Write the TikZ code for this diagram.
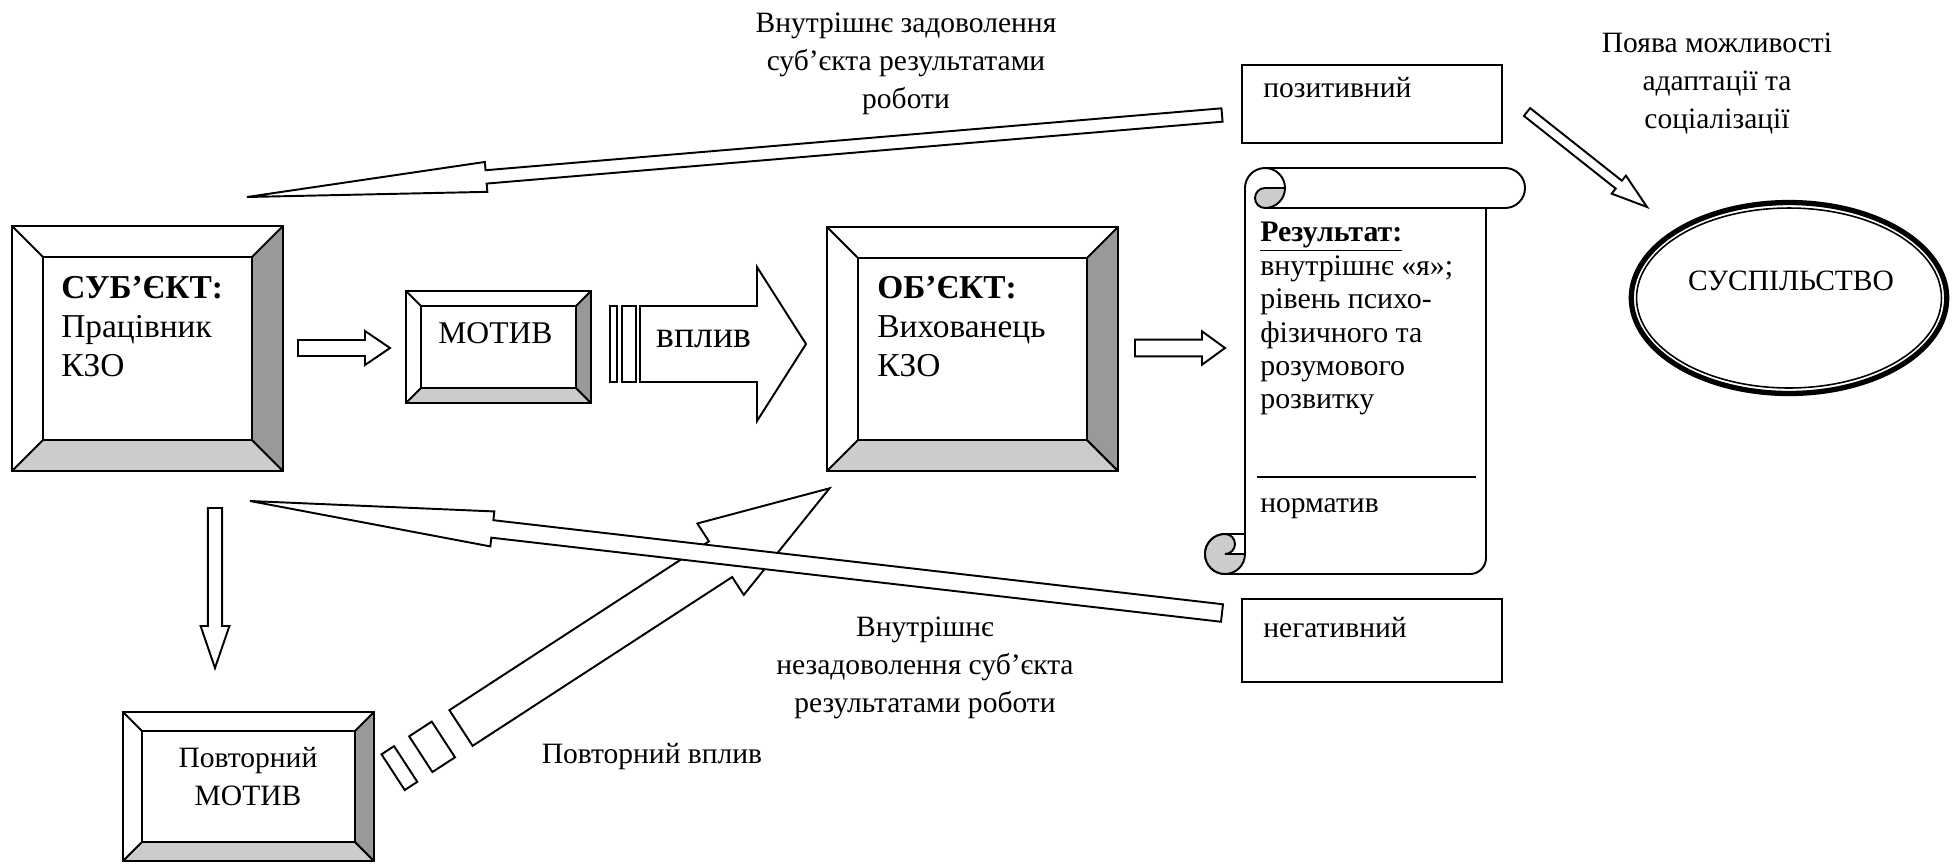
\documentclass[tikz,border=0pt]{standalone}
\usepackage{fontspec}
\setmainfont{Liberation Serif}
\usetikzlibrary{calc, shapes.geometric}

% block arrow between two named points: [opts]{from}{to}{half shaft}{half head}{head length}
\newcommand{\fatarrow}[6][]{%
  \coordinate (fa-b) at ($(#3)!#6!(#2)$);
  \draw[fat, #1] ($(#2)!#4!90:(#3)$) -- ($(fa-b)!#4!90:(#3)$) -- ($(fa-b)!#5!90:(#3)$) -- (#3)
    -- ($(fa-b)!#5!-90:(#3)$) -- ($(fa-b)!#4!-90:(#3)$) -- ($(#2)!#4!-90:(#3)$) -- cycle;
}
% stripe behind the tail of a block arrow: {tail}{tip}{from}{to}{half width}
\newcommand{\tailstripe}[5]{%
  \coordinate (ts-a) at ($(#1)!#3!(#2)$);
  \coordinate (ts-b) at ($(#1)!#4!(#2)$);
  \draw[fat] ($(ts-a)!#5!90:(#2)$) -- ($(ts-b)!#5!90:(#2)$) -- ($(ts-b)!#5!-90:(#2)$) -- ($(ts-a)!#5!-90:(#2)$) -- cycle;
}

\begin{document}
\begin{tikzpicture}[x=0.02cm, y=-0.02cm,
    lw/.style={line width=1.1pt},
    fat/.style={draw, lw, fill=white, line join=miter},
    bevel/.style={draw, lw, fill=white, inner sep=0pt, path picture={
        \coordinate (bb-sw) at (path picture bounding box.south west);
        \coordinate (bb-ne) at (path picture bounding box.north east);
        \coordinate (bb-se) at (bb-ne |- bb-sw);
        \coordinate (bb-nw) at (bb-sw |- bb-ne);
        \filldraw[lw, fill=black!20] (bb-sw) -- (bb-se) -- ([shift={(-#1,#1)}]bb-se) -- ([shift={(#1,#1)}]bb-sw) -- cycle;
        \filldraw[lw, fill=black!40] (bb-se) -- (bb-ne) -- ([shift={(-#1,-#1)}]bb-ne) -- ([shift={(-#1,#1)}]bb-se) -- cycle;
        \draw[lw] ([shift={(#1,#1)}]bb-sw) rectangle ([shift={(-#1,-#1)}]bb-ne);
        \draw[lw] (bb-nw) -- ([shift={(#1,-#1)}]bb-nw);
      }},
    plainbox/.style={draw, lw, fill=white, inner sep=0pt},
    lbl/.style={font=\fontsize{16.8}{21.6}\selectfont, align=center, inner sep=0pt},
    boxtxt/.style={font=\fontsize{19}{22.2}\selectfont, align=left, inner sep=0pt},
    scrl/.style={font=\fontsize{17}{19}\selectfont, align=left, inner sep=0pt},
  ]
\useasboundingbox (0,0) rectangle (1957,863);

% boxes
\node[bevel=0.62cm, minimum width=5.42cm, minimum height=4.9cm] (subj) at (147.5,348.5) {};
\node[bevel=0.3cm, minimum width=3.7cm, minimum height=2.24cm] (motive) at (498.5,347) {};
\node[bevel=0.62cm, minimum width=5.82cm, minimum height=4.88cm] (obj) at (972.5,349) {};
\node[bevel=0.38cm, minimum width=5.02cm, minimum height=2.98cm] (remotive) at (248.5,786.5) {};
\node[plainbox, minimum width=5.2cm, minimum height=1.56cm] (pos) at (1372,104) {};
\node[plainbox, minimum width=5.2cm, minimum height=1.66cm] (neg) at (1372,640.5) {};
\node[draw, ellipse, line width=3pt, minimum width=6.31cm, minimum height=3.82cm, inner sep=0pt] (soc) at (1789,298) {};
\draw[line width=0.9pt] (soc.center) ellipse[x radius=3.05cm, y radius=1.8cm];

% scroll
\begin{scope}[shift={(1245,574)}, x=0.02cm, y=0.02cm]
  \filldraw[lw, fill=white] (0,20) -- (0,386) arc[start angle=180, end angle=90, radius=20] -- (260,406)
    arc[start angle=90, end angle=-90, radius=20] -- (241,366) -- (241,16)
    arc[start angle=0, end angle=-90, radius=16] -- (-20,0)
    arc[start angle=-90, end angle=-270, radius=20] -- (0,40) -- cycle;
  \draw[lw] (20,366) -- (241,366);
  \filldraw[lw, fill=black!20] (20,386) -- (40,386) arc[start angle=0, end angle=-90, radius=20]
    arc[start angle=-90, end angle=-270, radius=10] -- cycle;
  \draw[lw] (20,406) arc[start angle=90, end angle=0, radius=20];
  \filldraw[lw, fill=black!20] (-20,20) arc[start angle=-90, end angle=90, radius=10]
    arc[start angle=90, end angle=360, radius=20] -- cycle;
  \draw[lw] (12,97) -- (231,97);
\end{scope}

% arrows
\coordinate (a1s) at (298,348); \coordinate (a1e) at (390,348);
\fatarrow{a1s}{a1e}{0.16cm}{0.34cm}{0.5cm}
\coordinate (vps) at (640,344); \coordinate (vpe) at (806,344);
\tailstripe{vps}{vpe}{-0.6cm}{-0.454cm}{0.76cm}
\tailstripe{vps}{vpe}{-0.354cm}{-0.086cm}{0.76cm}
\fatarrow{vps}{vpe}{0.76cm}{1.54cm}{0.98cm}
\coordinate (a3s) at (1135,348); \coordinate (a3e) at (1225,348);
\fatarrow{a3s}{a3e}{0.166cm}{0.334cm}{0.46cm}
\coordinate (a4s) at (1527,112); \coordinate (a4e) at (1647,207);
\fatarrow{a4s}{a4e}{0.1cm}{0.23cm}{0.72cm}
\coordinate (ts) at (1222,115); \coordinate (te) at (247,197);
\fatarrow{ts}{te}{0.134cm}{0.3cm}{4.8cm}
\coordinate (ds) at (215,508); \coordinate (de) at (215,668);
\fatarrow{ds}{de}{0.144cm}{0.288cm}{0.84cm}
\coordinate (rs) at (461,728); \coordinate (re) at (829.5,488.3);
\tailstripe{rs}{re}{-1.62cm}{-1.32cm}{0.426cm}
\tailstripe{rs}{re}{-0.96cm}{-0.42cm}{0.426cm}
\fatarrow{rs}{re}{0.426cm}{0.852cm}{2.6cm}
\coordinate (ls) at (1222,613); \coordinate (le) at (250,501);
\fatarrow{ls}{le}{0.176cm}{0.352cm}{4.88cm}

% texts
\node[boxtxt, anchor=north west] (subjtxt) at (61,276) {\textbf{СУБ’ЄКТ:}\\Працівник\\КЗО};
\node[boxtxt, anchor=north west] (objtxt) at (877,276) {\textbf{ОБ’ЄКТ:}\\Вихованець\\КЗО};
\node[boxtxt, font=\fontsize{18}{22}\selectfont, anchor=base west] (mottxt) at (438,343) {МОТИВ};
\node[font=\fontsize{21.5}{25}\selectfont, inner sep=0pt, anchor=base west] (vptxt) at (656,347) {вплив};
\node[lbl, anchor=north] (rmtxt) at (248,747) {Повторний\\МОТИВ};
\node[lbl, anchor=base] (repltxt) at (652,763) {Повторний вплив};
\node[lbl, anchor=north] (sattxt) at (906,13) {Внутрішнє задоволення\\суб’єкта результатами\\роботи};
\node[lbl, anchor=north] (dissattxt) at (925,617) {Внутрішнє\\незадоволення суб’єкта\\результатами роботи};
\node[lbl, anchor=north] (adapttxt) at (1717,33) {Поява можливості\\адаптації та\\соціалізації};
\node[lbl, anchor=base west] (postxt) at (1263,97) {позитивний};
\node[lbl, anchor=base west] (negtxt) at (1263,637) {негативний};
\node[scrl, anchor=north west] (restxt) at (1260,222) {\underline{\textbf{Результат:}}\\внутрішнє «я»;\\рівень психо-\\фізичного та\\розумового\\розвитку};
\node[lbl, anchor=base west] (normtxt) at (1260,512) {норматив};
\node[lbl, anchor=base] (soctxt) at (1791,290) {СУСПІЛЬСТВО};
\end{tikzpicture}
\end{document}
